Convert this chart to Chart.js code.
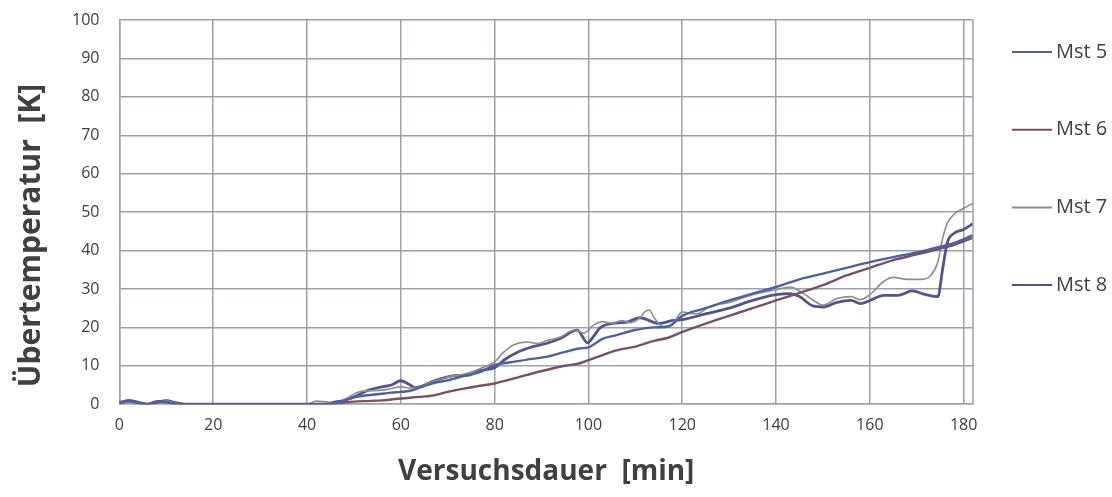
<!DOCTYPE html>
<html>
<head>
<meta charset="utf-8">
<script src="https://cdn.jsdelivr.net/npm/chart.js@4.4.1/dist/chart.umd.min.js"></script>
<style>
  body { margin: 0; background: #fff; }
  #wrap { width: 1112px; height: 497px; }
</style>
</head>
<body>
<div id="wrap"><canvas id="Chart1"></canvas></div>
<script>
// minutes / over-temperature [K]
const mst5Time = [0, 2, 4, 6, 8, 10, 12, 14, 44, 46, 48, 50, 52, 55, 58, 60, 62, 64, 67, 70, 74, 77, 80, 84, 88, 91, 95, 98, 100, 103, 106, 110, 114, 117, 120, 125, 130, 135, 140, 145, 150, 155, 160, 165, 170, 175, 178, 182];
const mst5Temp = [0.3, 0.8, 0.3, 0, 0.6, 0.5, 0.1, 0, 0, 0.3, 1, 1.8, 2.2, 2.6, 3, 3.2, 3.5, 4.3, 5.5, 6.2, 7.5, 8.4, 10.2, 11, 11.8, 12.3, 13.6, 14.5, 14.8, 17, 18, 19.3, 20, 20.2, 23, 25, 27, 28.8, 30.5, 32.5, 34, 35.5, 37, 38.3, 39.5, 41, 42, 44];

const mst6Time = [0, 2, 4, 6, 8, 10, 12, 46, 48, 52, 56, 60, 64, 67, 70, 74, 77, 80, 85, 88, 91, 95, 98, 100, 103, 106, 110, 114, 117, 120, 125, 130, 135, 140, 145, 150, 155, 160, 165, 170, 175, 178, 182];
const mst6Temp = [0.5, 1, 0.4, 0, 0.8, 0.6, 0, 0, 0.5, 0.8, 1, 1.5, 1.9, 2.3, 3.2, 4.2, 4.8, 5.4, 7, 8, 8.9, 10, 10.6, 11.5, 12.8, 14, 15, 16.5, 17.3, 18.8, 21, 23, 25, 27, 29, 31, 33.5, 35.5, 37.5, 39, 40.5, 41.5, 43.3];

const mst7Time = [0, 2, 4, 6, 8, 10, 12, 14, 40, 42, 44, 46, 48, 51, 54, 57, 60, 62, 64, 67, 70, 74, 77, 80, 82, 84, 87, 89, 91, 94, 97, 99, 101, 103, 105, 107, 109, 111, 112, 113, 114, 116, 118, 120, 123, 126, 130, 135, 140, 143, 145, 148, 150, 153, 156, 158, 160, 163, 165, 168, 171, 173, 174.5, 175.5, 176.5, 178, 180, 182];
const mst7Temp = [0, 0.5, 0.2, 0, 0.7, 0.8, 0.3, 0, 0, 0.8, 0.6, 0.3, 1.2, 3.2, 3.5, 3.8, 4.5, 4.2, 4.5, 6, 7.1, 8, 9.3, 11, 13.6, 15.4, 16.2, 15.8, 16.5, 17.5, 19.3, 18.5, 20.5, 21.5, 21, 21.8, 21.2, 22.5, 24, 24.5, 22.5, 20.2, 21, 24, 23.5, 25.5, 26.5, 28.5, 29.8, 30.5, 29.5, 27, 25.8, 27.5, 28, 27.2, 28.5, 32, 33, 32.5, 32.5, 33.5, 37, 43, 47, 49.5, 51, 52.3];

const mst8Time = [0, 2, 4, 6, 8, 10, 12, 14, 44, 46, 48, 50, 53, 56, 58, 60, 62, 63, 64, 67, 70, 72, 74, 77, 80, 82, 85, 88, 91, 94, 97.6, 99.8, 101, 102.6, 105, 108, 111, 115, 118, 120, 125, 130, 135, 140, 143, 145, 148, 150, 153, 156, 158, 160, 163, 166, 169, 172, 174.5, 175.5, 176.5, 178, 180, 182];
const mst8Temp = [0.2, 0.9, 0.5, 0, 0.5, 0.9, 0.4, 0, 0, 0.6, 1, 1.9, 3.6, 4.5, 5, 6.1, 5, 4.3, 4.5, 6, 7.1, 7.5, 7.5, 8.8, 9.5, 11.5, 13.6, 14.9, 15.8, 17.1, 19.3, 16, 17.5, 20, 21, 21.3, 22.5, 21, 21.8, 22, 23.5, 25, 27, 28.5, 28.8, 28, 25.5, 25.3, 26.5, 27, 26.2, 27, 28.3, 28.3, 29.5, 28.5, 28, 35, 42, 44.5, 45.5, 47];

const seriesNames = ['Mst 5', 'Mst 6', 'Mst 7', 'Mst 8'];
const xTicks = [0, 20, 40, 60, 80, 100, 120, 140, 160, 180];
const yTicks = [0, 10, 20, 30, 40, 50, 60, 70, 80, 90, 100];

function points(times, temps) {
  return times.map((t, i) => ({ x: t, y: temps[i] }));
}

function line(label, times, temps, color, width) {
  return {
    label: label,
    data: points(times, temps),
    borderColor: color,
    backgroundColor: color,
    borderWidth: width,
    pointRadius: 0,
    cubicInterpolationMode: 'monotone',
    fill: false
  };
}

// Excel-style legend on the right side + frame on the right edge
const sideLegend = {
  id: 'sideLegend',
  afterDraw(chart) {
    const ctx = chart.ctx;
    const area = chart.chartArea;
    ctx.save();
    ctx.strokeStyle = '#9d9fad';
    ctx.lineWidth = 1.5;
    ctx.beginPath();
    ctx.moveTo(area.right, area.top);
    ctx.lineTo(area.right, area.bottom);
    ctx.stroke();

    ctx.font = '20px "Open Sans"';
    ctx.textBaseline = 'middle';
    chart.data.datasets.forEach((ds, i) => {
      const y = area.top + 32 + i * 77.7;
      const x = area.right + 39;
      ctx.strokeStyle = ds.borderColor;
      ctx.lineWidth = 2;
      ctx.beginPath();
      ctx.moveTo(x, y);
      ctx.lineTo(x + 40, y);
      ctx.stroke();
      ctx.fillStyle = '#404040';
      ctx.fillText(ds.label, x + 44, y);
    });
    ctx.restore();
  }
};

var ctx1 = document.getElementById('Chart1').getContext('2d');
var myChart1 = new Chart(ctx1, {
  type: 'line',
  data: {
    datasets: [
      line(seriesNames[0], mst5Time, mst5Temp, '#4c62a0', 2.4),
      line(seriesNames[1], mst6Time, mst6Temp, '#7a5068', 2.4),
      line(seriesNames[2], mst7Time, mst7Temp, '#8d8d93', 1.6),
      line(seriesNames[3], mst8Time, mst8Temp, '#50558c', 2.8)
    ]
  },
  options: {
    responsive: true,
    maintainAspectRatio: false,
    animation: false,
    layout: {
      padding: { top: 20, right: 139, bottom: 8, left: 0 }
    },
    plugins: {
      legend: { display: false },
      tooltip: { enabled: false }
    },
    scales: {
      x: {
        type: 'linear',
        min: 0,
        max: 182,
        afterBuildTicks: axis => { axis.ticks = xTicks.map(v => ({ value: v })); },
        ticks: {
          color: '#404040',
          font: { family: 'Open Sans', size: 16 },
          padding: 12,
          maxRotation: 0
        },
        grid: { color: '#9d9fad', lineWidth: 1.5, drawTicks: false },
        border: { color: '#9d9fad', width: 1.5 },
        title: {
          display: true,
          text: 'Versuchsdauer  [min]',
          color: '#404040',
          font: { family: 'Open Sans', size: 28, weight: 'bold' },
          padding: { top: 8, bottom: 0 }
        }
      },
      y: {
        min: 0,
        max: 100,
        afterBuildTicks: axis => { axis.ticks = yTicks.map(v => ({ value: v })); },
        // tick padding would otherwise also push the plot top down
        afterFit: axis => { axis.paddingTop = 10; axis.paddingBottom = 10; },
        ticks: {
          color: '#404040',
          font: { family: 'Open Sans', size: 16 },
          padding: 20
        },
        grid: { color: '#9d9fad', lineWidth: 1.5, drawTicks: false },
        border: { color: '#9d9fad', width: 1.5 },
        title: {
          display: true,
          text: 'Übertemperatur  [K]      ',
          color: '#404040',
          font: { family: 'Open Sans', size: 30, weight: 'bold' },
          padding: { top: 13, bottom: 3 }
        }
      }
    }
  },
  plugins: [sideLegend]
});
</script>
</body>
</html>
